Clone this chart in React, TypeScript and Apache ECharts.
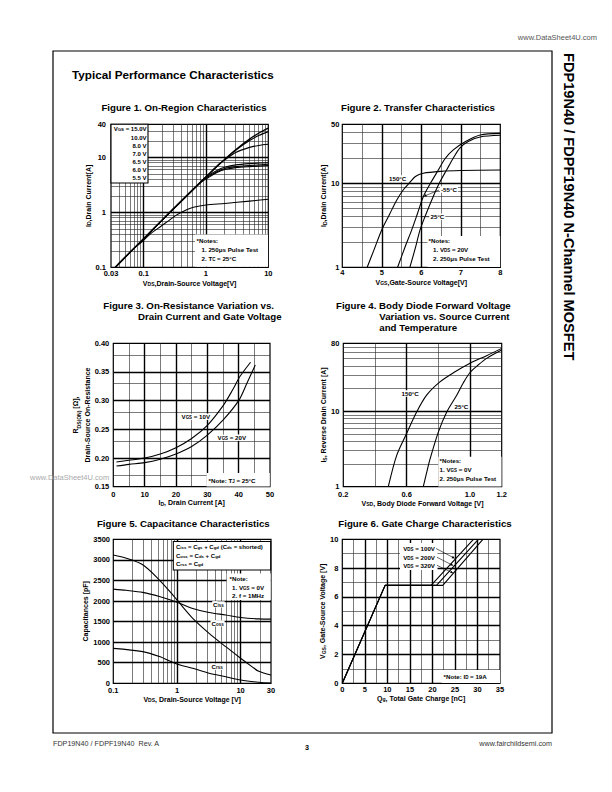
import React, { useEffect, useRef } from 'react';
import * as echarts from 'echarts';

const FONT = '"Liberation Sans", Arial, Helvetica, sans-serif';

// ---------------- Figure 1: On-Region Characteristics (VDS [V], ID [A]) ----------------
const f1XTicks = [0.03, 0.1, 1, 10];
const f1YTicks = [0.1, 1, 10, 40];
const f1Legend = ['V_{GS} = 15.0V', '10.0V', '8.0 V', '7.0 V', '6.5 V', '6.0 V', '5.5 V'];
const f1Vgs15 = [[0.035, 0.1], [0.1, 0.33], [0.3, 1.15], [1, 4.4], [2, 9.2], [3, 13.8], [5, 21.5], [7, 27.5], [10, 34]];
const f1Vgs10 = [[0.035, 0.1], [0.1, 0.33], [0.3, 1.15], [1, 4.4], [2, 9.2], [3, 13.5], [5, 20.2], [7, 25], [10, 29.5]];
const f1Vgs8 = [[0.035, 0.1], [0.1, 0.33], [0.3, 1.15], [1, 4.4], [1.6, 7.5], [2, 9.0], [3, 12.3], [5, 15.2], [7, 16.5], [10, 17.3]];
const f1Vgs7 = [[0.035, 0.1], [0.1, 0.33], [0.3, 1.15], [0.8, 3.5], [1.1, 4.7], [1.5, 5.8], [2, 6.6], [3, 7.3], [5, 7.7], [10, 8.0]];
const f1Vgs65 = [[0.035, 0.1], [0.1, 0.33], [0.3, 1.15], [0.8, 3.45], [1.1, 4.5], [1.5, 5.5], [2, 6.3], [3, 6.8], [5, 7.1], [10, 7.5]];
const f1Vgs6 = [[0.035, 0.1], [0.1, 0.33], [0.3, 1.15], [0.8, 3.4], [1.1, 4.3], [1.5, 5.3], [2, 6.0], [3, 6.5], [5, 6.8], [10, 7.1]];
const f1Vgs55 = [[0.035, 0.1], [0.07, 0.22], [0.1, 0.31], [0.13, 0.41], [0.19, 0.56], [0.25, 0.7], [0.34, 0.9], [0.5, 1.13], [0.63, 1.24], [1, 1.36], [2, 1.45], [5, 1.6], [10, 1.73]];

// ---------------- Figure 2: Transfer Characteristics (VGS [V], ID [A]) ----------------
const f2XTicks = [4, 5, 6, 7, 8];
const f2YTicks = [1, 10, 50];
const f2T150 = [[4.63, 1], [4.8, 1.6], [5.0, 2.8], [5.2, 4.3], [5.38, 6.3], [5.55, 8.4], [5.71, 10.2], [5.85, 12], [6.05, 13.1], [6.5, 13.8], [7, 14.1], [8, 14.3]];
const f2Tm55 = [[5.4, 1], [5.6, 1.8], [5.76, 2.8], [5.9, 4.3], [6.05, 6.9], [6.25, 10.3], [6.43, 14.3], [6.6, 19.5], [6.81, 24.8], [7.11, 31], [7.49, 37.3], [8, 39]];
const f2T25 = [[5.71, 1], [5.85, 1.7], [5.97, 2.8], [6.12, 4.3], [6.3, 6.9], [6.47, 10.3], [6.64, 14.3], [6.8, 19.5], [6.98, 26.3], [7.2, 31.5], [7.49, 35.4], [8, 37]];

// ---------------- Figure 3: On-Resistance (ID [A], RDS(on) [ohm]) ----------------
const f3Vgs10 = [[1, 0.193], [5, 0.196], [10, 0.2], [15, 0.207], [20, 0.218], [25, 0.234], [30, 0.257], [35, 0.291], [38, 0.318], [40.4, 0.342], [43.8, 0.367]];
const f3Vgs20 = [[1, 0.186], [5, 0.189], [10, 0.192], [15, 0.198], [20, 0.207], [25, 0.22], [30, 0.24], [35, 0.266], [40, 0.3], [42.6, 0.33], [45.3, 0.362]];

// ---------------- Figure 4: Body Diode (VSD [V], IS [A]) ----------------
const f4XTicks = [0.2, 0.6, 1.0, 1.2];
const f4YTicks = [1, 10, 80];
const f4T150 = [[0.484, 1], [0.537, 2.6], [0.596, 4.9], [0.663, 9.8], [0.726, 16.4], [0.81, 24.6], [0.9, 33], [1.0, 43.6], [1.105, 54.8], [1.2, 68.5]];
const f4T25 = [[0.705, 1], [0.725, 1.5], [0.747, 2.3], [0.8, 5.3], [0.853, 9.8], [0.916, 16.4], [0.958, 24], [1.0, 32.8], [1.05, 41], [1.105, 50.5], [1.2, 65]];

// ---------------- Figure 5: Capacitance (VDS [V], C [pF]) ----------------
const f5XTicks = [0.1, 1, 10, 30];
const f5Ciss = [[0.1, 2290], [0.16, 2260], [0.29, 2210], [0.53, 2110], [1, 1970], [1.77, 1820], [3.2, 1720], [5.84, 1660], [10, 1600], [19.3, 1565], [30, 1560]];
const f5Coss = [[0.1, 3120], [0.16, 3040], [0.29, 2880], [0.53, 2510], [0.86, 2150], [1.23, 1860], [1.77, 1580], [3.2, 1215], [5.84, 890], [10, 610], [15.2, 400], [19.3, 290], [30, 200]];
const f5Crss = [[0.1, 850], [0.29, 770], [0.53, 650], [1, 470], [1.77, 365], [3.2, 245], [5.84, 160], [10, 80], [19.3, 25], [30, 5]];

// ---------------- Figure 6: Gate Charge (Qg [nC], VGS [V]) ----------------
const f6Vds100 = [[0, 0], [9.5, 6.8], [19.7, 6.8], [29.1, 10]];
const f6Vds200 = [[0, 0], [9.5, 6.8], [20.9, 6.8], [30.2, 10]];
const f6Vds320 = [[0, 0], [9.5, 6.8], [22.3, 6.8], [31.2, 10]];

// ---------------- grid line values ----------------
const dec = (b: number) => [2, 3, 4, 5, 6, 7, 8, 9].map((k) => k * b);
const f1VMinor = [0.04, 0.05, 0.06, 0.07, 0.08, 0.09, ...dec(0.1), ...dec(1)];
const f1VMajor = [0.1, 1];
const f1HMinor = [...dec(0.1), ...dec(1), 20, 30];
const f1HMajor = [1, 10];
const f2VMinor = [4.5, 5.5, 6.5, 7.5];
const f2VMajor = [5, 6, 7];
const f2HMinor = [...dec(1), 20, 30, 40];
const f2HMajor = [10];
const f3VMinor = [5, 15, 25, 35, 45];
const f3VMajor = [10, 20, 30, 40];
const f3HMinor = [0.175, 0.225, 0.275, 0.325, 0.375];
const f3HMajor = [0.2, 0.25, 0.3, 0.35];
const f4VMinor = [0.4, 0.8];
const f4VMajor = [0.6, 1.0];
const f4HMinor = [...dec(1), 20, 30, 40, 50, 60, 70];
const f4HMajor = [10];
const f5VMinor = [...dec(0.1), ...dec(1), 20];
const f5VMajor = [1, 10];
const f5HMinor: number[] = [];
const f5HMajor = [500, 1000, 1500, 2000, 2500, 3000];
const f6VMinor = [2.5, 7.5, 12.5, 17.5, 22.5, 27.5, 32.5];
const f6VMajor = [5, 10, 15, 20, 25, 30];
const f6HMinor = [1, 3, 5, 7, 9];
const f6HMajor = [2, 4, 6, 8];

// ---------------- helpers ----------------
function rich(s: string) {
  let out = '';
  const re = /_\{([^}]*)\}/g;
  let last = 0;
  let m: RegExpExecArray | null;
  while ((m = re.exec(s))) {
    if (m.index > last) out += `{n|${s.slice(last, m.index)}}`;
    out += `{s|${m[1]}}`;
    last = m.index + m[0].length;
  }
  if (last < s.length) out += `{n|${s.slice(last)}}`;
  return out;
}
function richStyles(size: number, extra: any = {}) {
  return {
    n: { fontSize: size, fontWeight: 'bold', fontFamily: FONT, fill: '#000', color: '#000', ...extra },
    s: { fontSize: size * 0.72, fontWeight: 'bold', fontFamily: FONT, fill: '#000', color: '#000', verticalAlign: 'bottom', ...extra },
  };
}
function txt(s: string, x: number, y: number, size: number, align = 'left', opts: any = {}) {
  return {
    type: 'text',
    x,
    y,
    z: 6,
    silent: true,
    style: {
      text: rich(s),
      rich: richStyles(size, opts.bg ? { backgroundColor: '#fff' } : {}),
      align,
      verticalAlign: 'middle',
      fontFamily: FONT,
      fontSize: size,
      fontWeight: 'bold',
      fill: '#000',
      ...(opts.bg ? { backgroundColor: '#fff', padding: [0, 1] } : {}),
    },
  };
}
function plain(s: string, x: number, y: number, size: number, align = 'left', color = '#000', weight = 'normal') {
  return {
    type: 'text', x, y, z: 6, silent: true,
    style: { text: s, align, verticalAlign: 'middle', fontFamily: FONT, fontSize: size, fontWeight: weight, fill: color },
  };
}
function box(x: number, y: number, w: number, h: number, stroke = false) {
  return {
    type: 'rect', z: 5, silent: true,
    shape: { x, y, width: w, height: h },
    style: { fill: '#fff', stroke: stroke ? '#000' : null, lineWidth: 1.1 },
  };
}
function arrow(x1: number, y1: number, x2: number, y2: number) {
  const a = Math.atan2(y2 - y1, x2 - x1);
  const L = 3.2, W = 1.3;
  const bx = x2 - L * Math.cos(a), by = y2 - L * Math.sin(a);
  return [
    { type: 'line', z: 6, silent: true, shape: { x1, y1, x2: bx, y2: by }, style: { stroke: '#000', lineWidth: 0.6 } },
    {
      type: 'polygon', z: 6, silent: true,
      shape: { points: [[x2, y2], [bx + W * Math.sin(a), by - W * Math.cos(a)], [bx - W * Math.sin(a), by + W * Math.cos(a)]] },
      style: { fill: '#000' },
    },
  ];
}

const LABEL_SIZE = 7.5;
const NAME_SIZE = 7;

function xAxis(i: number, type: string, min: number, max: number, name: string, gap: number, margin: number, extra: any = {}) {
  return {
    gridIndex: i, type, min, max, logBase: 10,
    axisLine: { show: false }, axisTick: { show: false }, splitLine: { show: false }, minorTick: { show: false },
    axisLabel: { fontSize: LABEL_SIZE, fontWeight: 'bold', color: '#000', fontFamily: FONT, margin, hideOverlap: false, ...(extra.axisLabel || {}) },
    name: rich(name), nameLocation: 'middle', nameGap: gap,
    nameTextStyle: { rich: richStyles(NAME_SIZE) },
    ...(extra.interval ? { interval: extra.interval } : {}),
  };
}
const yAxis = xAxis;

function curve(i: number, data: number[][], smooth: any = 0.3, width = 1.1) {
  return {
    type: 'line', xAxisIndex: i, yAxisIndex: i, data, symbol: 'none', showSymbol: false,
    smooth, silent: true, z: 3,
    lineStyle: { color: '#000', width },
  };
}
function gridLines(i: number, vMinor: number[], vMajor: number[], hMinor: number[], hMajor: number[]) {
  const minor = { color: '#222', width: 0.6, type: 'solid' };
  const major = { color: '#000', width: 1.4, type: 'solid' };
  return {
    type: 'line', xAxisIndex: i, yAxisIndex: i, data: [], silent: true, z: 1,
    markLine: {
      silent: true, z: 1, symbol: ['none', 'none'], label: { show: false }, animation: false,
      lineStyle: minor,
      emphasis: { disabled: true },
      data: [
        ...vMinor.map((v) => ({ xAxis: v, lineStyle: minor })),
        ...hMinor.map((v) => ({ yAxis: v, lineStyle: minor })),
        ...vMajor.map((v) => ({ xAxis: v, lineStyle: major })),
        ...hMajor.map((v) => ({ yAxis: v, lineStyle: major })),
      ],
    },
  };
}
const fmtNum = (v: number) => String(+(+v).toPrecision(3));

function buildOption() {
  const gridBase = { show: true, borderColor: '#000', borderWidth: 1.2, backgroundColor: 'transparent', containLabel: false };
  const grid = [
    { ...gridBase, left: 111, top: 124.3, width: 157.3, height: 143 },
    { ...gridBase, left: 342.3, top: 124.3, width: 158, height: 143 },
    { ...gridBase, left: 113.3, top: 343.3, width: 156.7, height: 143.4 },
    { ...gridBase, left: 343.3, top: 343.3, width: 158.4, height: 143.4 },
    { ...gridBase, left: 113.3, top: 539.3, width: 157.7, height: 144 },
    { ...gridBase, left: 342.3, top: 539.3, width: 157.7, height: 144 },
  ];
  const xAxes = [
    xAxis(0, 'log', 0.03, 10, 'V_{DS},Drain-Source Voltage[V]', 12.5, 2.5, { axisLabel: { customValues: f1XTicks, formatter: fmtNum } }),
    xAxis(1, 'value', 4, 8, 'V_{GS},Gate-Source Voltage[V]', 11.5, 1.5, { interval: 1, axisLabel: { customValues: f2XTicks } }),
    xAxis(2, 'value', 0, 50, 'I_{D}, Drain Current [A]', 12.5, 3.5, { interval: 10 }),
    xAxis(3, 'value', 0.2, 1.2, 'V_{SD}, Body Diode Forward Voltage [V]', 13, 3.5, { interval: 0.2, axisLabel: { customValues: f4XTicks, formatter: (v: number) => (+v).toFixed(1) } }),
    xAxis(4, 'log', 0.1, 30, 'V_{DS}, Drain-Source Voltage [V]', 12, 3.5, { axisLabel: { customValues: f5XTicks, formatter: fmtNum } }),
    xAxis(5, 'value', 0, 35, 'Q_{g}, Total Gate Charge [nC]', 11.5, 2.2, { interval: 5 }),
  ];
  const yAxes = [
    yAxis(0, 'log', 0.1, 40, 'I_{D},Drain Current[A]', 17, 5, { axisLabel: { customValues: f1YTicks, formatter: fmtNum } }),
    yAxis(1, 'log', 1, 50, 'I_{D},Drain Current[A]', 10.5, 3, { axisLabel: { customValues: f2YTicks, formatter: fmtNum } }),
    {
      ...yAxis(2, 'value', 0.15, 0.4, 'R_{DS(ON)} [Ω],\nDrain-Source On-Resistance', 15, 4, { interval: 0.05, axisLabel: { formatter: (v: number) => (+v).toFixed(2) } }),
      nameTextStyle: { rich: richStyles(NAME_SIZE, { lineHeight: 12 }) },
    },
    yAxis(3, 'log', 1, 80, 'I_{S}, Reverse Drain Current [A]', 14.5, 4, { axisLabel: { customValues: f4YTicks, formatter: fmtNum } }),
    yAxis(4, 'value', 0, 3500, 'Capacitances [pF]', 24.5, 3.3, { interval: 500, axisLabel: { formatter: (v: number) => String(v) } }),
    yAxis(5, 'value', 0, 10, 'V_{GS}, Gate-Source Voltage [V]', 13.8, 4, { interval: 2 }),
  ];

  const series: any[] = [
    gridLines(0, f1VMinor, f1VMajor, f1HMinor, f1HMajor),
    gridLines(1, f2VMinor, f2VMajor, f2HMinor, f2HMajor),
    gridLines(2, f3VMinor, f3VMajor, f3HMinor, f3HMajor),
    gridLines(3, f4VMinor, f4VMajor, f4HMinor, f4HMajor),
    gridLines(4, f5VMinor, f5VMajor, f5HMinor, f5HMajor),
    gridLines(5, f6VMinor, f6VMajor, f6HMinor, f6HMajor),
    curve(0, f1Vgs15, 0.3, 1.3), curve(0, f1Vgs10, 0.3, 1.2), curve(0, f1Vgs8), curve(0, f1Vgs7), curve(0, f1Vgs65), curve(0, f1Vgs6), curve(0, f1Vgs55),
    curve(1, f2T150), curve(1, f2Tm55), curve(1, f2T25),
    curve(2, f3Vgs10), curve(2, f3Vgs20),
    curve(3, f4T150), curve(3, f4T25),
    curve(4, f5Ciss), curve(4, f5Coss), curve(4, f5Crss),
    curve(5, f6Vds100, false), curve(5, f6Vds200, false), curve(5, f6Vds320, false),
  ];

  const legendY = [128.8, 137.6, 145.8, 154, 162, 170, 178.3];
  const graphic: any[] = [
    // page frame and headers
    { type: 'rect', z: 0, silent: true, shape: { x: 53, y: 51, width: 499, height: 682 }, style: { fill: null, stroke: '#000', lineWidth: 1.2 } },
    plain('www.DataSheet4U.com', 597, 37, 7.5, 'right', '#555'),
    plain('Typical Performance Characteristics', 72, 74, 11.7, 'left', '#000', 'bold'),
    {
      type: 'text', x: 569, y: 53, rotation: -Math.PI / 2, z: 6, silent: true,
      style: { text: 'FDP19N40 / FDPF19N40 N-Channel MOSFET', align: 'left', verticalAlign: 'middle', fontFamily: FONT, fontSize: 14.6, fontWeight: 'bold', fill: '#000' },
    },
    plain('FDP19N40 / FDPF19N40  Rev. A', 53, 743, 7.2, 'left', '#333'),
    plain('3', 307, 747, 7.2, 'center', '#000', 'bold'),
    plain('www.fairchildsemi.com', 552, 743, 7.2, 'right', '#333'),
    plain('www.DataSheet4U.com', 30, 477.5, 7.5, 'left', '#aaa'),

    // figure titles
    plain('Figure 1. On-Region Characteristics', 184, 107.8, 9.7, 'center', '#000', 'bold'),
    plain('Figure 2. Transfer Characteristics', 418, 107.8, 9.7, 'center', '#000', 'bold'),
    plain('Figure 3. On-Resistance Variation vs.', 103.3, 305.5, 9.7, 'left', '#000', 'bold'),
    plain('Drain Current and Gate Voltage', 138, 316.8, 9.7, 'left', '#000', 'bold'),
    plain('Figure 4. Body Diode Forward Voltage', 336, 305.5, 9.7, 'left', '#000', 'bold'),
    plain('Variation vs. Source Current', 379.3, 316.8, 9.7, 'left', '#000', 'bold'),
    plain('and Temperature', 379.3, 327.8, 9.7, 'left', '#000', 'bold'),
    plain('Figure 5. Capacitance Characteristics', 183.3, 523.5, 9.7, 'center', '#000', 'bold'),
    plain('Figure 6. Gate Charge Characteristics', 425, 523.5, 9.7, 'center', '#000', 'bold'),

    // Figure 1 legend & notes
    box(111, 124.3, 37, 58.7, true),
    ...f1Legend.map((s, k) => txt(s, 146.5, legendY[k], 6, 'right')),
    box(195, 234.5, 73, 32.2),
    txt('*Notes:', 196.5, 240.5, 6.2),
    txt('1. 250μs Pulse Test', 201.5, 249.3, 6.2),
    txt('2. T_{C} = 25°C', 201.5, 258.5, 6.2),

    // Figure 2 labels
    txt('150°C', 388, 178.5, 6.2, 'left', { bg: true }),
    txt('-55°C', 440, 189.5, 6.2, 'left', { bg: true }),
    ...arrow(439, 190, 423.5, 196.5),
    { type: 'line', z: 6, silent: true, shape: { x1: 421, y1: 216.7, x2: 429, y2: 216.7 }, style: { stroke: '#000', lineWidth: 0.6 } },
    txt('25°C', 429.5, 216.7, 6.2, 'left', { bg: true }),
    box(427.5, 236, 72.6, 31),
    txt('*Notes:', 428.5, 240.7, 6.2),
    txt('1. V_{DS} = 20V', 433, 249.7, 6.2),
    txt('2. 250μs Pulse Test', 433, 258.5, 6.2),

    // Figure 3 labels
    txt('V_{GS} = 10V', 180.5, 416.7, 6.2, 'left', { bg: true }),
    txt('V_{GS} = 20V', 216.5, 437.7, 6.2, 'left', { bg: true }),
    box(206.5, 473, 63.3, 13.4),
    txt('*Note: T_{J} = 25°C', 208.5, 480.3, 6.2),

    // Figure 4 labels
    txt('150°C', 400.5, 393.5, 6.2, 'left', { bg: true }),
    txt('25°C', 453.5, 406.7, 6.2, 'left', { bg: true }),
    box(438.3, 456.7, 63.2, 29.8),
    txt('*Notes:', 439.5, 460.7, 6.2),
    txt('1. V_{GS} = 0V', 439.5, 469.2, 6.2),
    txt('2. 250μs Pulse Test', 439.5, 478.5, 6.2),

    // Figure 5 labels
    box(173.3, 541.5, 97.4, 28.5, true),
    txt('C_{iss} = C_{gs} + C_{gd} (C_{ds} = shorted)', 176, 546.8, 6),
    txt('C_{oss} = C_{ds} + C_{gd}', 176, 555.5, 6),
    txt('C_{rss} = C_{gd}', 176, 563.5, 6),
    box(226.7, 573.5, 44, 26.5),
    txt('*Note:', 229.5, 578.5, 6.2),
    txt('1. V_{GS} = 0V', 232, 587, 6.2),
    txt('2. f = 1MHz', 232, 595.3, 6.2),
    txt('C_{iss}', 212, 604.3, 6.2, 'left', { bg: true }),
    txt('C_{oss}', 210.5, 623.3, 6.2, 'left', { bg: true }),
    txt('C_{rss}', 210.5, 666.7, 6.2, 'left', { bg: true }),

    // Figure 6 labels
    box(400, 543, 37.5, 27),
    txt('V_{DS} = 100V', 435, 548.3, 6.2, 'right'),
    txt('V_{DS} = 200V', 435, 557, 6.2, 'right'),
    txt('V_{DS} = 320V', 435, 565, 6.2, 'right'),
    ...arrow(436, 548.5, 455, 558.5),
    ...arrow(437, 557.3, 453.5, 565.7),
    ...arrow(437, 565.3, 453.5, 573.3),
    box(441.7, 670, 58.3, 13),
    txt('*Note: I_{D} = 19A', 443.5, 676.3, 6.2),
  ];

  return {
    animation: false,
    backgroundColor: '#fff',
    textStyle: { fontFamily: FONT },
    grid,
    xAxis: xAxes,
    yAxis: yAxes,
    series,
    graphic: { elements: graphic },
  };
}

export default function App() {
  const ref = useRef<HTMLDivElement>(null);
  useEffect(() => {
    if (!ref.current) return;
    const chart = echarts.init(ref.current, null, { renderer: 'svg' });
    chart.setOption(buildOption() as any);
    return () => chart.dispose();
  }, []);
  return (
    <div
      ref={ref}
      style={{ position: 'absolute', left: 0, top: 0, width: 612, height: 792, background: '#fff' }}
    />
  );
}
